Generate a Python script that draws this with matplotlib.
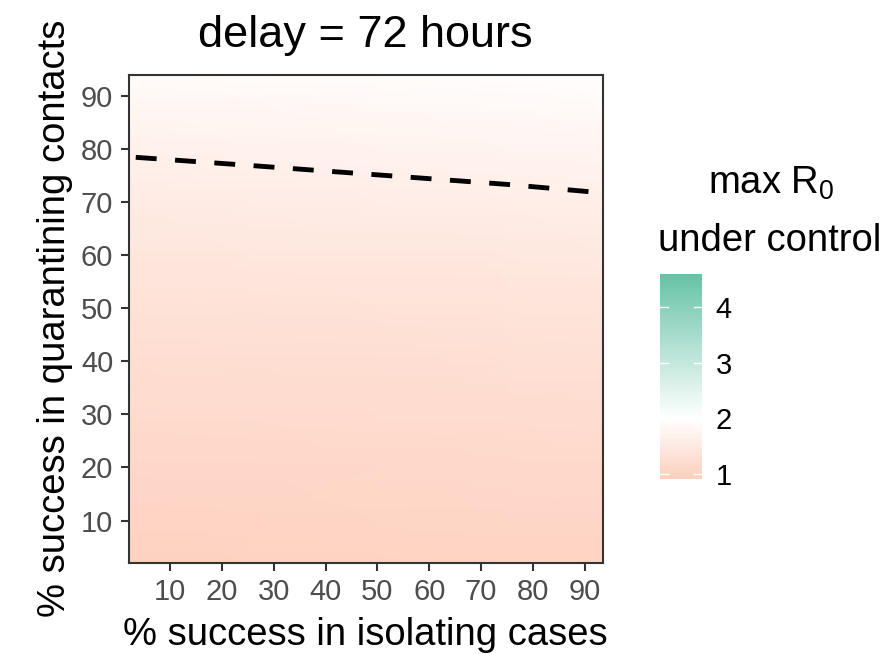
import numpy as np
import matplotlib
matplotlib.use("Agg")
import matplotlib.pyplot as plt
from matplotlib.colors import LinearSegmentedColormap, Normalize

plt.rcParams['font.family'] = ['Liberation Sans', 'DejaVu Sans']
plt.rcParams['mathtext.fontset'] = 'custom'
plt.rcParams['mathtext.rm'] = 'Liberation Sans'

# grid nodes (% success) and estimated max R0 at each node
isolation = [2.0, 25.0, 50.0, 75.0, 93.5]
quarantine = [2.1, 10, 20, 30, 40, 50, 60, 70, 80, 90, 93.9]
max_r0 = [
    [0.98, 1.00, 1.01, 1.02, 1.03],
    [1.03, 1.05, 1.06, 1.07, 1.08],
    [1.10, 1.11, 1.12, 1.13, 1.15],
    [1.17, 1.19, 1.20, 1.21, 1.23],
    [1.25, 1.26, 1.27, 1.29, 1.31],
    [1.33, 1.35, 1.36, 1.38, 1.40],
    [1.43, 1.45, 1.46, 1.48, 1.50],
    [1.55, 1.57, 1.59, 1.61, 1.63],
    [1.69, 1.71, 1.73, 1.75, 1.77],
    [1.84, 1.86, 1.88, 1.90, 1.92],
    [1.90, 1.92, 1.93, 1.95, 1.97],
]

# contour drawn as dashed line
line_x = [3.4, 25, 50, 75, 92.3]
line_y = [78.4, 76.9, 75.1, 73.3, 71.8]

cbar_ticks = [1, 2, 3, 4]
r0_min, r0_mid, r0_max = 0.91, 2.0, 4.6

# gradient2-like scale: white at midpoint, full colour at furthest end
low_full = np.array([252, 141, 98]) / 255
high_full = np.array([102, 194, 165]) / 255
white = np.array([1.0, 1.0, 1.0])
frac_low = (r0_mid - r0_min) / (r0_max - r0_mid)
low_col = white + frac_low * (low_full - white)
pos_mid = (r0_mid - r0_min) / (r0_max - r0_min)
cmap = LinearSegmentedColormap.from_list(
    'r0', [(0, low_col), (pos_mid, white), (1, high_full)])
norm = Normalize(r0_min, r0_max)

fig = plt.figure(figsize=(8.93, 6.54), dpi=100)
ax = fig.add_axes([0.1439, 0.1399, 0.5314, 0.7454])

X, Y = np.meshgrid(isolation, quarantine)
mesh = ax.pcolormesh(X, Y, np.array(max_r0), cmap=cmap, norm=norm, shading='gouraud')
ax.plot(line_x, line_y, color='black', lw=3.5, dashes=(4.3, 3.8))

ax.set_xlim(2.0, 93.5)
ax.set_ylim(2.1, 93.9)
ax.set_xticks(range(10, 100, 10))
ax.set_yticks(range(10, 100, 10))
ax.tick_params(length=6, width=1.5, color='#333333', labelsize=21,
               labelcolor='#4d4d4d', pad=5)
for s in ax.spines.values():
    s.set_color('#333333')
    s.set_linewidth(1.5)

ax.set_title('delay = 72 hours', fontsize=32.5, pad=20)
ax.set_xlabel('% success in isolating cases', fontsize=27.5, labelpad=8)
ax.set_ylabel('% success in quarantining contacts', fontsize=27.5, labelpad=6)

cax = fig.add_axes([0.739, 0.2676, 0.047, 0.3135])
cb = fig.colorbar(mesh, cax=cax, ticks=cbar_ticks)
cb.outline.set_visible(False)
cax.tick_params(length=0, labelsize=21, pad=10)
for t in cbar_ticks:
    cax.plot([0, 0.2], [t, t], color='white', lw=1, transform=cax.get_yaxis_transform())
    cax.plot([0.8, 1], [t, t], color='white', lw=1, transform=cax.get_yaxis_transform())

fig.text(0.864, 0.72, 'max R$_0$', fontsize=27.5, ha='center', va='center')
fig.text(0.862, 0.632, 'under control', fontsize=27.5, ha='center', va='center')

fig.savefig('out.png', dpi=100)
